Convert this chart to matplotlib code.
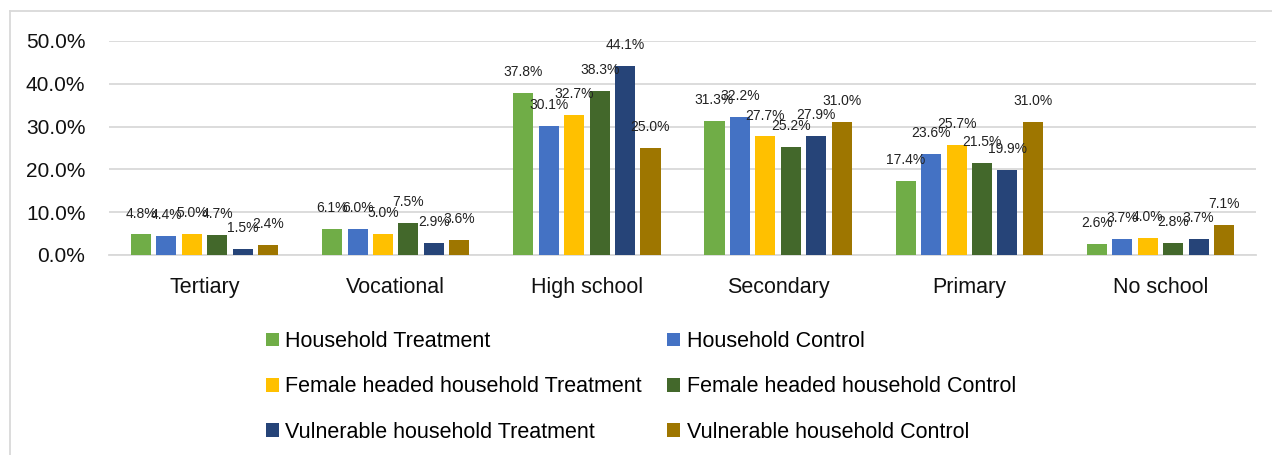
import numpy as np
import matplotlib.pyplot as plt
from matplotlib.lines import Line2D
from matplotlib.patches import Patch
from matplotlib.ticker import PercentFormatter

plt.rcParams['font.family'] = ['Liberation Sans', 'DejaVu Sans']

# education level shares (%) by household group
categories = ["Tertiary", "Vocational", "High school", "Secondary", "Primary", "No school"]
series_names = [
    "Household Treatment",
    "Household Control",
    "Female headed household Treatment",
    "Female headed household Control",
    "Vulnerable household Treatment",
    "Vulnerable household Control",
]
hh_treatment = [4.8, 6.1, 37.8, 31.3, 17.4, 2.6]
hh_control = [4.4, 6.0, 30.1, 32.2, 23.6, 3.7]
fhh_treatment = [5.0, 5.0, 32.7, 27.7, 25.7, 4.0]
fhh_control = [4.7, 7.5, 38.3, 25.2, 21.5, 2.8]
vhh_treatment = [1.5, 2.9, 44.1, 27.9, 19.9, 3.7]
vhh_control = [2.4, 3.6, 25.0, 31.0, 31.0, 7.1]

series = [hh_treatment, hh_control, fhh_treatment, fhh_control, vhh_treatment, vhh_control]
colors = ["#70AD47", "#4472C4", "#FFC000", "#43682B", "#264478", "#9E7600"]

fig = plt.figure(figsize=(12.72, 4.55), dpi=100)
ax = fig.add_axes([109 / 1272, 1 - 255 / 455, (1256 - 109) / 1272, (255 - 41) / 455])

x = np.arange(len(categories))
slot = 0.133
width = 0.105
for i, (vals, col) in enumerate(zip(series, colors)):
    pos = x + (i - 2.5) * slot
    bars = ax.bar(pos, vals, width=width, color=col, zorder=3)
    for b, v in zip(bars, vals):
        ax.annotate("{:.1f}%".format(v), (b.get_x() + b.get_width() / 2, v),
                    xytext=(0, 15), textcoords="offset points",
                    ha="center", va="center", fontsize=10, color="#222222",
                    annotation_clip=False, zorder=4)

ax.set_xlim(-0.5, len(categories) - 0.5)
ax.set_ylim(0, 50)
ax.set_yticks(np.arange(0, 51, 10))
ax.yaxis.set_major_formatter(PercentFormatter(decimals=1))
ax.set_xticks(x)
ax.set_xticklabels(categories)
ax.tick_params(axis="x", length=0, pad=16, labelsize=15.5, labelcolor="#111111")
ax.tick_params(axis="y", length=0, pad=17, labelsize=15, labelcolor="#111111")
ax.grid(axis="y", color="#d9d9d9", linewidth=1.3, zorder=0)
for s in ["top", "right", "left"]:
    ax.spines[s].set_visible(False)
ax.spines["bottom"].set_color("#d9d9d9")
ax.spines["bottom"].set_linewidth(1.3)

# legend: treatment groups in the first column, control in the second
order = [0, 2, 4, 1, 3, 5]
handles = [Patch(facecolor=colors[k], edgecolor="none") for k in order]
labels = [series_names[k] for k in order]
fig.legend(handles, labels, ncol=2, loc="upper left",
           bbox_to_anchor=(266 / 1272, 1 - 331 / 455), frameon=False,
           fontsize=15.5, handlelength=0.6, handleheight=0.6, handletextpad=0.3,
           labelspacing=1.13, columnspacing=1.18, borderpad=0, borderaxespad=0)

# outer chart border
fig.add_artist(Line2D([9.5 / 1272, 1.0], [1 - 11 / 455, 1 - 11 / 455],
                      transform=fig.transFigure, color="#d9d9d9", linewidth=1.3))
fig.add_artist(Line2D([9.5 / 1272, 9.5 / 1272], [0.0, 1 - 11 / 455],
                      transform=fig.transFigure, color="#d9d9d9", linewidth=1.3))

fig.savefig("out.png", dpi=100)
